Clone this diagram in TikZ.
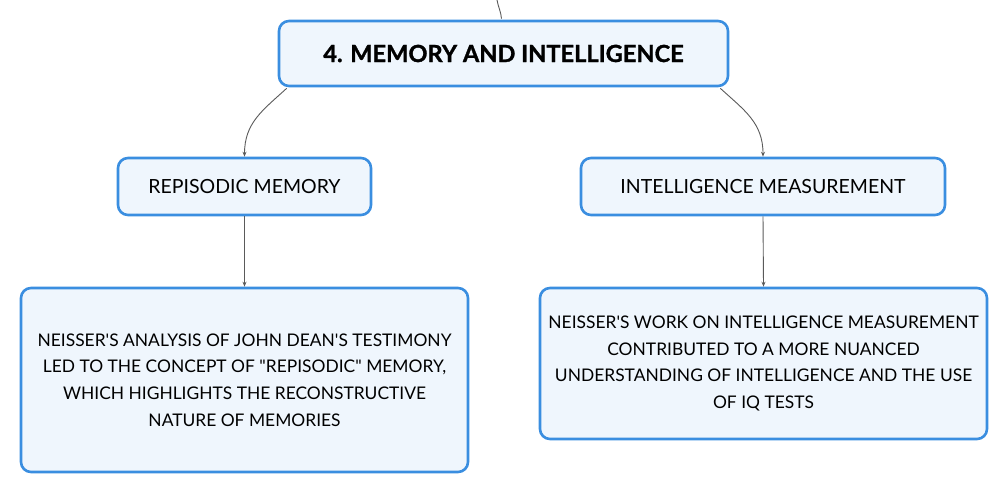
\documentclass[tikz,border=0pt]{standalone}
\usepackage{fontspec}
\setmainfont{Lato}
\newfontfamily\latoraw{Lato}
\usetikzlibrary{arrows.meta}
\definecolor{bord}{HTML}{3A8EE0}
\definecolor{boxfill}{HTML}{EFF6FD}
\definecolor{conn}{HTML}{5A5A5A}
\tikzset{
  box/.style={draw=bord, line width=2.6pt, fill=boxfill, rounded corners=10pt, inner sep=0pt, align=center, text=black},
  link/.style={draw=conn, line width=0.9pt, -{Stealth[length=5pt,width=4pt]}},
}
\begin{document}
\begin{tikzpicture}[x=1pt,y=1pt]
\useasboundingbox (0,0) rectangle (1008,494);
\node[box, minimum width=449pt, minimum height=65pt, font=\fontsize{23.6}{28}\selectfont\bfseries\addfontfeatures{FakeBold=1.2}] (top) at (503.5,440.5) {4. MEMORY AND INTELLIGENCE};
\node[box, minimum width=253pt, minimum height=57pt, font=\fontsize{19.5}{22}\selectfont] (rep) at (244.5,307.5) {REPISODIC MEMORY};
\node[box, minimum width=364pt, minimum height=57pt, font=\fontsize{19.5}{22}\selectfont] (int) at (763,307.5) {INTELLIGENCE MEASUREMENT};
\node[box, minimum width=447pt, minimum height=184pt, font=\latoraw\fontsize{17.4}{26.7}\selectfont] (repd) at (244.5,114) {NEISSER'S ANALYSIS OF JOHN DEAN'S TESTIMONY\\LED TO THE CONCEPT OF "REPISODIC" MEMORY,\\WHICH HIGHLIGHTS THE RECONSTRUCTIVE\\NATURE OF MEMORIES};
\node[box, minimum width=447pt, minimum height=151pt, font=\latoraw\fontsize{17.4}{26.7}\selectfont] (intd) at (763.5,130.5) {NEISSER'S WORK ON INTELLIGENCE MEASUREMENT\\CONTRIBUTED TO A MORE NUANCED\\UNDERSTANDING OF INTELLIGENCE AND THE USE\\OF IQ TESTS};
\coordinate (src) at (497,494);
\draw[draw=conn, line width=0.9pt] (src) to[out=-80,in=95] ([xshift=-2pt,yshift=1pt]top.north);
\draw[link] ([xshift=9pt,yshift=-1pt]top.south west) .. controls +(-24,-22) and +(0,34) .. (rep.north);
\draw[link] ([xshift=-9pt,yshift=-1pt]top.south east) .. controls +(24,-22) and +(0,34) .. (int.north);
\draw[link] (rep.south) -- (repd.north);
\draw[link] (int.south) -- (intd.north);
\end{tikzpicture}
\end{document}
